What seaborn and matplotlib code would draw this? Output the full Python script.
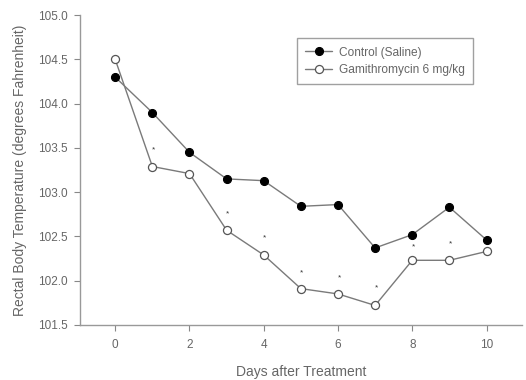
import matplotlib
matplotlib.use("Agg")
import matplotlib.pyplot as plt
import seaborn as sns
import pandas as pd

days = [0, 1, 2, 3, 4, 5, 6, 7, 8, 9, 10]
control = [104.30, 103.90, 103.45, 103.15, 103.13, 102.84, 102.86, 102.37, 102.52, 102.83, 102.46]
gamithro = [104.50, 103.29, 103.21, 102.57, 102.29, 101.91, 101.85, 101.72, 102.23, 102.23, 102.33]
star_days = [1, 3, 4, 5, 6, 7, 8, 9]
star_y = [103.48, 102.75, 102.48, 102.09, 102.03, 101.92, 102.38, 102.42]
series_names = ["Control (Saline)", "Gamithromycin 6 mg/kg"]

sns.set_style("ticks")
plt.rcParams['font.family'] = ['Liberation Sans', 'DejaVu Sans']

df = pd.DataFrame({
    "day": days * 2,
    "temp": control + gamithro,
    "group": [series_names[0]] * len(days) + [series_names[1]] * len(days),
})

fig = plt.figure(figsize=(5.26, 3.80), dpi=100)
ax = fig.add_axes([0.152, 0.145, 0.840, 0.815])

line_c = "#7a7a7a"
sns.lineplot(data=df[df.group == series_names[0]], x="day", y="temp", ax=ax,
             color=line_c, lw=1.0, marker="o", markersize=5.8,
             markerfacecolor="black", markeredgecolor="black", label=series_names[0])
sns.lineplot(data=df[df.group == series_names[1]], x="day", y="temp", ax=ax,
             color=line_c, lw=1.0, marker="o", markersize=5.8,
             markerfacecolor="white", markeredgecolor="#555555", markeredgewidth=0.9,
             label=series_names[1])

for d, y in zip(star_days, star_y):
    ax.text(d + 0.03, y, "*", ha="center", va="center", fontsize=6, color="#333333")

ax.set_xlim(-0.95, 10.95)
ax.set_ylim(101.5, 105.0)
ax.set_xticks([0, 2, 4, 6, 8, 10])
yt = [101.5, 102.0, 102.5, 103.0, 103.5, 104.0, 104.5, 105.0]
ax.set_yticks(yt)
ax.set_yticklabels([f"{v:.1f}" for v in yt])
ax.tick_params(axis="both", labelsize=8.5, colors="#888888", labelcolor="#666666",
               length=4, width=0.8)
ax.tick_params(axis="x", pad=6)
ax.tick_params(axis="y", pad=5)
for s in ["top", "right"]:
    ax.spines[s].set_visible(False)
for s in ["left", "bottom"]:
    ax.spines[s].set_color("#999999")
    ax.spines[s].set_linewidth(1.0)

ax.set_xlabel("Days after Treatment", fontsize=10, color="#666666", labelpad=10)
ax.set_ylabel("Rectal Body Temperature (degrees Fahrenheit)", fontsize=10, color="#666666", labelpad=8)

leg = ax.legend(loc="upper left", bbox_to_anchor=(0.478, 0.945), fontsize=8.6,
                frameon=True, fancybox=False, edgecolor="#888888", handlelength=2.2,
                borderpad=0.7, labelspacing=0.45, handletextpad=0.6)
for t in leg.get_texts():
    t.set_color("#666666")
leg.get_frame().set_linewidth(1.0)

fig.savefig("out.png", dpi=100)
